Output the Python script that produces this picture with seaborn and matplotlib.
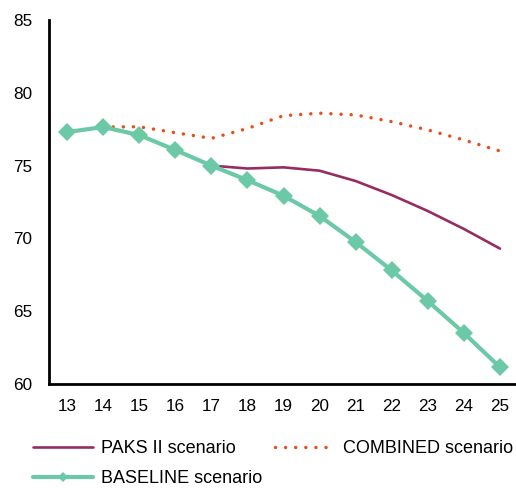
import matplotlib
matplotlib.use("Agg")
import matplotlib.pyplot as plt
import seaborn as sns
import pandas as pd

years = [13, 14, 15, 16, 17, 18, 19, 20, 21, 22, 23, 24, 25]
baseline = [77.3, 77.65, 77.1, 76.07, 75.0, 74.0, 72.93, 71.54, 69.75, 67.8, 65.7, 63.5, 61.15]
paks_years = [17, 18, 19, 20, 21, 22, 23, 24, 25]
paks = [75.0, 74.8, 74.88, 74.65, 73.94, 72.98, 71.88, 70.65, 69.3]
comb_years = [14, 15, 16, 17, 18, 19, 20, 21, 22, 23, 24, 25]
combined = [77.65, 77.67, 77.26, 76.87, 77.55, 78.43, 78.6, 78.48, 78.02, 77.45, 76.76, 76.0]
ytick_vals = [60, 65, 70, 75, 80, 85]

sns.set_theme(style="white")
plt.rcParams['font.family'] = ['Liberation Sans', 'DejaVu Sans']
plt.rcParams['text.color'] = '#000000'

fig = plt.figure(figsize=(5.16, 4.88), dpi=100)
ax = fig.add_axes([49/516, 1 - 384/488, (518 - 49)/516, (384 - 20)/488])

df_p = pd.DataFrame({"x": paks_years, "y": paks})
df_c = pd.DataFrame({"x": comb_years, "y": combined})
df_b = pd.DataFrame({"x": years, "y": baseline})

sns.lineplot(data=df_p, x="x", y="y", ax=ax, color="#962D62", linewidth=1.9,
             label="PAKS II scenario", zorder=3)
sns.lineplot(data=df_c, x="x", y="y", ax=ax, color="#E84E1B", linewidth=2.5,
             label="COMBINED scenario", zorder=2)
sns.lineplot(data=df_b, x="x", y="y", ax=ax, color="#6CC9A7", linewidth=3.0,
             marker="D", markersize=9, markeredgewidth=0,
             label="BASELINE scenario", zorder=4)

lines = ax.get_lines()
lines[1].set_linestyle((0, (0.01, 2.9)))
lines[1].set_dash_capstyle("round")

ax.set_xlim(12.5, 25.5)
ax.set_ylim(60, 85)
ax.set_xticks(years)
ax.set_xticklabels([str(y) for y in years])
ax.set_yticks(ytick_vals)
ax.set_yticklabels([str(v) for v in ytick_vals])
ax.set_xlabel("")
ax.set_ylabel("")
ax.tick_params(axis="both", length=0, labelsize=12.3, colors="#000000")
ax.tick_params(axis="y", pad=12)
ax.tick_params(axis="x", pad=11)
for s in ["top", "right"]:
    ax.spines[s].set_visible(False)
for s in ["left", "bottom"]:
    ax.spines[s].set_color("#000000")
    ax.spines[s].set_linewidth(2.0)
ax.grid(False)

h, l = ax.get_legend_handles_labels()
ax.get_legend().remove()
order = [0, 2, 1]
fig.legend([h[i] for i in order], [l[i] for i in order], ncol=2,
           loc="upper left", bbox_to_anchor=(26/516, 1 - 433/488),
           frameon=False, fontsize=13, handlelength=3.3, handletextpad=0.45,
           columnspacing=0.7, labelspacing=0.72, borderaxespad=0,
           markerscale=0.55, labelcolor="#000000")

fig.savefig("out.png", dpi=100)
